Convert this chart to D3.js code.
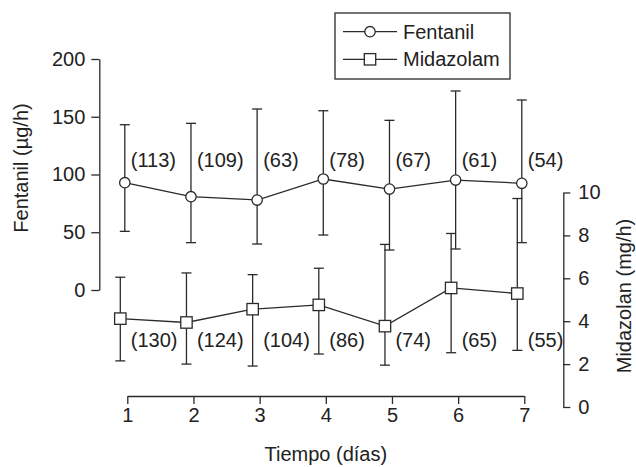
<!DOCTYPE html>
<html>
<head>
<meta charset="utf-8">
<script src="https://cdn.jsdelivr.net/npm/d3@7"></script>
<style>
  html, body { margin: 0; padding: 0; background: #fff; }
  svg { display: block; }
  text { font-family: "Liberation Sans", Arial, sans-serif; fill: #222; }
</style>
</head>
<body>
<svg id="chart" width="636" height="467"></svg>
<script>
// ---- data ----
const days = [1, 2, 3, 4, 5, 6, 7];
const xTicks = [1, 2, 3, 4, 5, 6, 7];
const fentanilTicks = [0, 50, 100, 150, 200];
const midazolamTicks = [0, 2, 4, 6, 8, 10];

const fentanilMean  = [92.9, 80.8, 77.9, 96.1, 87.4, 95.2, 92.4];
const fentanilUpper = [143.1, 144.3, 156.7, 155.2, 146.9, 172.3, 164.5];
const fentanilLower = [50.8, 41.0, 39.8, 47.6, 34.6, 35.5, 41.0];
const fentanilN     = [113, 109, 63, 78, 67, 61, 54];

const midazolamMean  = [4.12, 3.94, 4.56, 4.76, 3.77, 5.55, 5.29];
const midazolamUpper = [6.05, 6.25, 6.17, 6.47, 7.58, 8.09, 9.72];
const midazolamLower = [2.15, 2.00, 1.91, 2.47, 1.95, 2.53, 2.64];
const midazolamN     = [130, 124, 104, 86, 74, 65, 55];

const seriesNames = ["Fentanil", "Midazolam"];
const xTitle = "Tiempo (días)";
const yLeftTitle = "Fentanil (µg/h)";
const yRightTitle = "Midazolan (mg/h)";

// ---- layout ----
const svg = d3.select("#chart");
const ink = "#2a2a2a";
const fs = 20;

const x = d3.scaleLinear().domain([1, 7]).range([127.3, 524.3]);
const yF = d3.scaleLinear().domain([0, 200]).range([290, 59]);
const yM = d3.scaleLinear().domain([0, 10]).range([407, 192.5]);

const fentOffset = -2.5;   // px shift of fentanil marks from tick
const midOffset = -7;      // px shift of midazolam marks from tick
const capHalf = 5;

function styleAxis(g) {
  g.selectAll("path.domain").attr("stroke", ink).attr("stroke-width", 1.3);
  g.selectAll(".tick line").attr("stroke", ink).attr("stroke-width", 1.3);
  g.selectAll(".tick text").attr("font-size", fs).attr("font-family", "Liberation Sans, Arial, sans-serif").attr("fill", "#222");
}

// left axis
const gL = svg.append("g").attr("transform", "translate(99.3,0)")
  .call(d3.axisLeft(yF).tickValues(fentanilTicks).tickSize(8).tickSizeOuter(0).tickPadding(6));
styleAxis(gL);

// right axis
const gR = svg.append("g").attr("transform", "translate(563.3,0)")
  .call(d3.axisRight(yM).tickValues(midazolamTicks).tickSize(7).tickSizeOuter(0).tickPadding(8));
styleAxis(gR);

// bottom axis
const gB = svg.append("g").attr("transform", "translate(0,396)")
  .call(d3.axisBottom(x).tickValues(xTicks).tickFormat(d3.format("d")).tickSize(8).tickSizeOuter(0).tickPadding(4));
styleAxis(gB);

// axis titles
svg.append("text").attr("transform", "translate(28,168) rotate(-90)")
  .attr("text-anchor", "middle").attr("font-size", fs).text(yLeftTitle);
svg.append("text").attr("transform", "translate(630.5,296) rotate(-90)")
  .attr("text-anchor", "middle").attr("font-size", fs).text(yRightTitle);
svg.append("text").attr("x", x(4)).attr("y", 461)
  .attr("text-anchor", "middle").attr("font-size", fs).text(xTitle);

// ---- series ----
function drawSeries(mean, upper, lower, yScale, offset, shape) {
  const g = svg.append("g");
  const px = i => x(days[i]) + offset;
  // error bars
  days.forEach((d, i) => {
    g.append("line").attr("x1", px(i)).attr("x2", px(i))
      .attr("y1", yScale(lower[i])).attr("y2", yScale(upper[i]))
      .attr("stroke", ink).attr("stroke-width", 1.3);
    [upper[i], lower[i]].forEach(v => {
      g.append("line").attr("x1", px(i) - capHalf).attr("x2", px(i) + capHalf)
        .attr("y1", yScale(v)).attr("y2", yScale(v))
        .attr("stroke", ink).attr("stroke-width", 1.3);
    });
  });
  // line
  const line = d3.line().x((d, i) => px(i)).y(d => yScale(d));
  g.append("path").datum(mean).attr("d", line)
    .attr("fill", "none").attr("stroke", ink).attr("stroke-width", 1.3);
  // markers
  mean.forEach((v, i) => {
    if (shape === "circle") {
      g.append("circle").attr("cx", px(i)).attr("cy", yScale(v)).attr("r", 5.2)
        .attr("fill", "#fff").attr("stroke", ink).attr("stroke-width", 1.3);
    } else {
      g.append("rect").attr("x", px(i) - 5.7).attr("y", yScale(v) - 5.7)
        .attr("width", 11.4).attr("height", 11.4)
        .attr("fill", "#fff").attr("stroke", ink).attr("stroke-width", 1.3);
    }
  });
}

drawSeries(midazolamMean, midazolamUpper, midazolamLower, yM, midOffset, "square");
drawSeries(fentanilMean, fentanilUpper, fentanilLower, yF, fentOffset, "circle");

// n labels
const labelDx = 3.5;
fentanilN.forEach((n, i) => {
  svg.append("text").attr("x", x(days[i]) + labelDx).attr("y", yF(112.5))
    .attr("dy", "0.35em").attr("font-size", fs).text("(" + n + ")");
});
midazolamN.forEach((n, i) => {
  svg.append("text").attr("x", x(days[i]) + labelDx).attr("y", yM(3.13))
    .attr("dy", "0.35em").attr("font-size", fs).text("(" + n + ")");
});

// ---- legend ----
const lg = svg.append("g");
lg.append("rect").attr("x", 335).attr("y", 13).attr("width", 175).attr("height", 66)
  .attr("fill", "#fff").attr("stroke", ink).attr("stroke-width", 1.3);
const rows = [31.7, 59.3];
seriesNames.forEach((name, k) => {
  const yy = rows[k];
  lg.append("line").attr("x1", 343).attr("x2", 397).attr("y1", yy).attr("y2", yy)
    .attr("stroke", ink).attr("stroke-width", 1.3);
  if (k === 0) {
    lg.append("circle").attr("cx", 370).attr("cy", yy).attr("r", 5.2)
      .attr("fill", "#fff").attr("stroke", ink).attr("stroke-width", 1.3);
  } else {
    lg.append("rect").attr("x", 364.3).attr("y", yy - 5.7).attr("width", 11.4).attr("height", 11.4)
      .attr("fill", "#fff").attr("stroke", ink).attr("stroke-width", 1.3);
  }
  lg.append("text").attr("x", 403).attr("y", yy).attr("dy", "0.35em")
    .attr("font-size", fs).text(name);
});
</script>
</body>
</html>
